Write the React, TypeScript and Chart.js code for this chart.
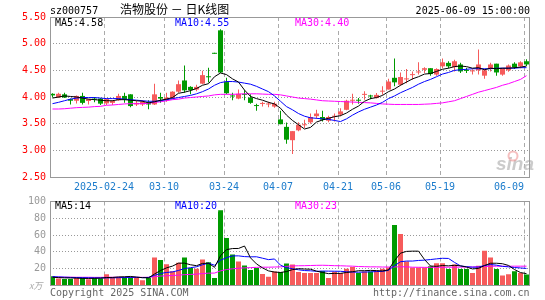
import { useEffect, useRef } from 'react';
import { Chart, registerables } from 'chart.js';

Chart.register(...registerables);

// ---------- data ----------
const stockCode = 'sz000757';
const chartTitle = '浩物股份 － 日K线图';
const timeStamp = '2025-06-09 15:00:00';
const volumeUnit = 'x万';
const copyrightText = 'Copyright 2025 SINA.COM';
const urlText = 'http://finance.sina.com.cn';

const dateIndex = [9, 19, 29, 38, 48, 56, 65, 79];
const dateLabels = ['2025-02-24', '03-10', '03-24', '04-07', '04-21', '05-06', '05-19', '06-09'];
const priceTicks = [2.5, 3, 3.5, 4, 4.5, 5, 5.5];
const volumeTicks = [0, 20, 40, 60, 80, 100];

const opens = [
  4.06, 3.99, 4.05, 3.96, 3.93, 4.02, 3.925, 3.97, 3.97, 3.88,
  3.89, 3.94, 4.02, 4.05, 3.86, 3.86, 3.89, 3.86, 4.0, 3.94,
  3.97, 4.1, 4.31, 4.19, 4.14, 4.25, 4.38, 4.81, 5.25, 4.28,
  4.02, 3.97, 4.05, 3.99, 3.84, 3.87, 3.86, 3.82, 3.58, 3.44,
  3.19, 3.375, 3.47, 3.525, 3.64, 3.625, 3.555, 3.63, 3.67, 3.76,
  3.93, 3.94, 4.04, 4.02, 3.98, 4.1, 4.14, 4.36, 4.23, 4.33,
  4.41, 4.46, 4.51, 4.54, 4.42, 4.575, 4.64, 4.56, 4.61, 4.5,
  4.48, 4.5, 4.4, 4.525, 4.625, 4.42, 4.5, 4.625, 4.575, 4.67,
];
const highs = [
  4.07, 4.08, 4.08, 3.97, 4.03, 4.08, 3.96, 4.0, 3.98, 3.97,
  3.94, 4.06, 4.08, 4.05, 3.925, 3.94, 3.94, 4.25, 4.08, 4.08,
  4.11, 4.31, 4.59, 4.2, 4.23, 4.49, 4.55, 4.81, 5.27, 4.36,
  4.08, 4.14, 4.125, 4.05, 3.875, 3.91, 3.91, 3.91, 3.74, 3.52,
  3.36, 3.525, 3.575, 3.69, 3.76, 3.74, 3.65, 3.69, 3.79, 3.95,
  4.06, 3.98, 4.11, 4.04, 4.075, 4.2, 4.34, 4.72, 4.46, 4.525,
  4.48, 4.65, 4.56, 4.54, 4.54, 4.72, 4.67, 4.7, 4.64, 4.55,
  4.52, 4.89, 4.525, 4.64, 4.625, 4.54, 4.61, 4.65, 4.67, 4.71,
];
const lows = [
  3.99, 3.98, 3.98, 3.86, 3.88, 3.86, 3.86, 3.9, 3.85, 3.85,
  3.85, 3.93, 3.89, 3.81, 3.83, 3.83, 3.77, 3.85, 3.89, 3.91,
  3.96, 4.08, 4.08, 4.05, 4.11, 4.24, 4.27, 4.81, 4.45, 4.05,
  3.94, 3.96, 3.94, 3.875, 3.74, 3.82, 3.81, 3.8, 3.49, 3.125,
  2.93, 3.36, 3.42, 3.5, 3.59, 3.54, 3.525, 3.54, 3.64, 3.75,
  3.86, 3.875, 3.95, 3.96, 3.97, 4.04, 4.14, 4.2, 4.21, 4.26,
  4.325, 4.42, 4.45, 4.4, 4.4, 4.54, 4.54, 4.48, 4.45, 4.45,
  4.42, 4.42, 4.34, 4.48, 4.4, 4.4, 4.475, 4.525, 4.54, 4.58,
];
const closes = [
  4.03, 4.06, 3.99, 3.93, 4.02, 3.89, 3.96, 3.95, 3.875, 3.96,
  3.925, 4.02, 3.96, 3.83, 3.89, 3.91, 3.86, 4.05, 3.97, 3.99,
  4.1, 4.24, 4.125, 4.13, 4.19, 4.41, 4.37, 4.81, 4.46, 4.07,
  4.01, 4.06, 4.04, 3.89, 3.83, 3.88, 3.87, 3.875, 3.49, 3.2,
  3.36, 3.48, 3.48, 3.625, 3.69, 3.575, 3.625, 3.64, 3.73, 3.93,
  3.94, 3.93, 4.05, 4.01, 4.04, 4.11, 4.29, 4.275, 4.375, 4.34,
  4.42, 4.47, 4.54, 4.43, 4.525, 4.65, 4.575, 4.67, 4.48, 4.49,
  4.49, 4.61, 4.5, 4.61, 4.46, 4.54, 4.59, 4.56, 4.65, 4.61,
];
const ma5 = [
  3.98, 4.0, 4.02, 4.01, 4.0, 3.98, 3.96, 3.95, 3.94, 3.93,
  3.93, 3.95, 3.95, 3.94, 3.93, 3.92, 3.89, 3.91, 3.94, 3.96,
  3.99, 4.07, 4.09, 4.12, 4.16, 4.22, 4.25, 4.38, 4.45, 4.42,
  4.34, 4.28, 4.13, 4.01, 3.97, 3.94, 3.9, 3.87, 3.79, 3.66,
  3.56, 3.48, 3.4, 3.43, 3.53, 3.57, 3.6, 3.63, 3.65, 3.7,
  3.77, 3.83, 3.92, 3.97, 3.99, 4.03, 4.1, 4.15, 4.22, 4.28,
  4.34, 4.38, 4.43, 4.44, 4.48, 4.52, 4.54, 4.57, 4.58, 4.57,
  4.54, 4.55, 4.51, 4.54, 4.53, 4.54, 4.54, 4.55, 4.56, 4.58,
];
const ma10 = [
  3.875, 3.9, 3.93, 3.96, 3.98, 3.99, 3.99, 3.99, 3.98, 3.97,
  3.97, 3.97, 3.96, 3.95, 3.94, 3.93, 3.92, 3.92, 3.93, 3.95,
  3.97, 3.99, 4.01, 4.03, 4.06, 4.1, 4.15, 4.22, 4.27, 4.29,
  4.29, 4.28, 4.26, 4.24, 4.2, 4.15, 4.1, 4.02, 3.92, 3.82,
  3.76, 3.69, 3.64, 3.61, 3.6, 3.59, 3.58, 3.56, 3.54, 3.59,
  3.66, 3.72, 3.77, 3.81, 3.85, 3.9, 3.97, 4.02, 4.08, 4.13,
  4.18, 4.24, 4.29, 4.33, 4.38, 4.43, 4.46, 4.5, 4.51, 4.52,
  4.53, 4.53, 4.53, 4.53, 4.54, 4.54, 4.54, 4.54, 4.55, 4.55,
];
const ma30 = [
  3.775, 3.775, 3.78, 3.79, 3.8, 3.805, 3.81, 3.82, 3.825, 3.845,
  3.85, 3.86, 3.87, 3.875, 3.875, 3.875, 3.88, 3.9, 3.91, 3.93,
  3.95, 3.96, 3.98, 3.99, 4.0, 4.01, 4.02, 4.04, 4.05, 4.05,
  4.05, 4.055, 4.06, 4.06, 4.06, 4.055, 4.05, 4.05, 4.04, 4.02,
  4.0, 3.98, 3.97, 3.96, 3.945, 3.93, 3.925, 3.92, 3.915, 3.91,
  3.905, 3.9, 3.895, 3.89, 3.88, 3.87, 3.865, 3.86, 3.86, 3.86,
  3.86, 3.86, 3.865, 3.87, 3.88, 3.89, 3.91, 3.93, 3.97, 4.01,
  4.05, 4.09, 4.12, 4.15, 4.18, 4.22, 4.25, 4.29, 4.33, 4.4,
];
const volumes = [
  10.9, 8.2, 7.8, 7.8, 9.4, 9.4, 7.4, 9.0, 8.2, 13.3,
  10.2, 10.2, 10.2, 10.2, 9.4, 6.3, 9.4, 33.2, 30.5, 25.4,
  17.0, 27.0, 33.2, 20.7, 19.9, 30.9, 27.7, 9.0, 89.5, 56.6,
  37.0, 28.5, 23.8, 18.4, 20.7, 13.7, 10.5, 16.8, 16.0, 26.2,
  25.0, 16.0, 14.8, 14.8, 14.8, 17.2, 9.0, 16.4, 14.8, 19.9,
  21.9, 14.8, 16.8, 16.8, 18.0, 19.9, 21.5, 71.9, 61.3, 28.5,
  21.5, 21.5, 21.5, 23.0, 26.6, 26.6, 19.5, 25.0, 19.5, 19.5,
  14.8, 23.4, 41.4, 33.2, 19.5, 12.0, 13.5, 17.0, 15.0, 13.0,
];
const volMa5 = [
  9.8, 9.4, 9.1, 9.0, 8.8, 8.5, 8.4, 8.6, 8.7, 9.5,
  9.6, 10.2, 10.4, 10.8, 10.0, 9.3, 9.1, 13.7, 17.8, 21.0,
  23.1, 26.6, 26.6, 24.7, 23.6, 26.3, 26.5, 21.6, 35.4, 42.7,
  44.0, 44.1, 47.0, 32.9, 25.7, 21.0, 17.4, 16.0, 15.5, 16.6,
  18.9, 20.0, 19.6, 19.4, 17.1, 15.5, 14.1, 14.4, 14.4, 15.5,
  16.4, 17.6, 17.6, 18.0, 17.7, 17.3, 18.6, 29.6, 38.5, 40.6,
  40.9, 40.9, 30.9, 23.2, 22.8, 23.8, 23.4, 24.1, 23.4, 22.0,
  19.7, 20.4, 23.7, 26.5, 26.5, 25.9, 23.9, 19.0, 15.4, 14.1,
];
const volMa10 = [
  10.5, 10.2, 9.9, 9.6, 9.5, 9.3, 9.2, 9.1, 9.0, 9.1,
  9.1, 9.3, 9.5, 9.75, 9.75, 9.4, 9.6, 12.1, 14.3, 15.5,
  16.2, 17.9, 20.2, 21.2, 22.3, 24.7, 26.6, 24.1, 30.0, 33.2,
  35.2, 35.3, 34.4, 34.1, 34.2, 32.5, 30.8, 31.6, 24.2, 21.2,
  20.0, 18.7, 17.8, 17.5, 16.9, 17.2, 17.1, 17.0, 16.9, 16.3,
  16.0, 15.8, 16.0, 16.2, 16.6, 16.8, 18.1, 23.6, 28.3, 29.1,
  29.1, 29.8, 30.2, 30.9, 31.7, 32.4, 32.2, 27.5, 23.3, 22.4,
  21.8, 21.9, 23.9, 25.0, 24.2, 22.8, 22.2, 21.4, 20.9, 20.3,
];
const volMa30 = [
  10.0, 10.0, 9.9, 9.9, 9.8, 9.8, 9.8, 9.7, 9.7, 9.8,
  9.8, 9.8, 9.8, 9.8, 9.8, 9.7, 9.8, 10.5, 11.2, 11.6,
  11.9, 12.3, 12.9, 13.2, 13.5, 14.2, 14.7, 14.8, 17.4, 19.0,
  19.9, 20.5, 21.0, 21.3, 21.6, 21.8, 21.8, 22.0, 22.2, 22.8,
  23.3, 23.5, 23.6, 23.8, 24.0, 24.1, 23.9, 23.6, 23.5, 23.2,
  23.0, 22.6, 22.4, 22.2, 22.2, 22.0, 22.0, 22.1, 22.3, 22.2,
  21.8, 21.7, 21.6, 21.6, 21.7, 21.7, 21.8, 21.8, 21.9, 22.0,
  22.1, 22.3, 22.6, 22.9, 23.0, 22.9, 22.9, 23.0, 23.0, 23.0,
];

// ---------- styles ----------
const RED = '#f65b5b';
const GREEN = '#009a00';
const FRAME = '#999999';
const GRID = '#aaaaaa';
const MONO = '"DejaVu Sans Mono", monospace';
const CJK = '"Noto Sans CJK SC", sans-serif';

const xPos = (i: number) => i + 5 / 12;
const candleColors = closes.map((c, i) => (c > opens[i] ? RED : GREEN));
const last = closes.length - 1;

const xScale = (showLabels: boolean, height: number): any => ({
  type: 'linear',
  min: 0,
  max: 80,
  offset: false,
  bounds: 'ticks',
  afterBuildTicks: (s: any) => {
    s.ticks = [0, ...dateIndex].map((v) => ({ value: v }));
  },
  afterFit: (s: any) => {
    s.height = height;
  },
  ticks: {
    display: showLabels,
    autoSkip: false,
    maxRotation: 0,
    minRotation: 0,
    align: 'inner',
    padding: 4,
    color: '#1c7ccc',
    font: { family: MONO, size: 10 },
    callback: (v: any) => {
      const k = dateIndex.indexOf(Number(v));
      return k >= 0 ? dateLabels[k] : '';
    },
  },
  grid: {
    offset: false,
    color: (c: any) => (c.tick && c.tick.value === 0 ? 'rgba(0,0,0,0)' : GRID),
    drawTicks: false,
    lineWidth: 1,
  },
  border: { display: false, dash: [4, 3] },
});

const lineDs = (label: string, arr: number[], color: string): any => ({
  type: 'line',
  label,
  data: arr.map((v, i) => ({ x: xPos(i), y: v })),
  borderColor: color,
  borderWidth: 1,
  pointRadius: 0,
  fill: false,
  tension: 0,
});

const drawFrame = (chart: any) => {
  const { ctx, chartArea: a } = chart;
  ctx.save();
  ctx.strokeStyle = FRAME;
  ctx.lineWidth = 1;
  const l = Math.floor(a.left) + 0.5;
  const t = Math.floor(a.top) + 0.5;
  const r = Math.floor(a.right) - 0.5;
  const b = Math.floor(a.bottom) + 0.5;
  ctx.strokeRect(l, t, r - l, b - t);
  ctx.restore();
};

const drawLegend = (ctx: any, items: [string, string, number][], baseline: number, top: number) => {
  ctx.font = `10px ${MONO}`;
  ctx.textAlign = 'left';
  ctx.textBaseline = 'alphabetic';
  items.forEach(([text, color, x]) => {
    const w = ctx.measureText(text).width;
    ctx.fillStyle = '#ffffff';
    ctx.fillRect(x - 1, top, w + 2, baseline - top + 3);
    ctx.fillStyle = color;
    ctx.fillText(text, x, baseline);
  });
};

const pricePlugin = {
  id: 'priceDeco',
  beforeDatasetsDraw(chart: any) {
    const { ctx } = chart;
    ctx.save();
    ctx.font = `italic bold 19px "Liberation Sans", sans-serif`;
    ctx.fillStyle = 'rgba(185,185,185,0.75)';
    ctx.textAlign = 'left';
    ctx.textBaseline = 'alphabetic';
    ctx.fillText('sina', 496, 170);
    ctx.strokeStyle = 'rgba(240,150,150,0.6)';
    ctx.lineWidth = 2;
    ctx.beginPath();
    ctx.arc(513, 156, 4.5, 0, Math.PI * 2);
    ctx.stroke();
    ctx.restore();
  },
  afterDraw(chart: any) {
    const { ctx, chartArea: a } = chart;
    drawFrame(chart);
    ctx.save();
    ctx.textBaseline = 'alphabetic';
    ctx.fillStyle = '#000000';
    ctx.font = `10px ${MONO}`;
    ctx.textAlign = 'left';
    ctx.fillText(stockCode, 50, 14);
    ctx.font = `12px ${CJK}`;
    ctx.fillText(chartTitle, 120, 14);
    ctx.font = `10px ${MONO}`;
    ctx.textAlign = 'right';
    ctx.fillText(timeStamp, 530, 14);
    drawLegend(
      ctx,
      [
        [`MA5:${ma5[last].toFixed(2)}`, '#000000', 55],
        [`MA10:${ma10[last].toFixed(2)}`, '#0000ff', 175],
        [`MA30:${ma30[last].toFixed(2)}`, '#ff00ff', 295],
      ],
      Math.floor(a.top) + 9,
      Math.floor(a.top) + 1,
    );
    ctx.restore();
  },
};

const volumePlugin = {
  id: 'volumeDeco',
  afterDraw(chart: any) {
    const { ctx, chartArea: a } = chart;
    drawFrame(chart);
    ctx.save();
    drawLegend(
      ctx,
      [
        [`MA5:${Math.round(volMa5[last])}`, '#000000', 55],
        [`MA10:${Math.round(volMa10[last])}`, '#0000ff', 175],
        [`MA30:${Math.round(volMa30[last])}`, '#ff00ff', 295],
      ],
      Math.floor(a.top) + 8,
      Math.floor(a.top) + 1,
    );
    ctx.textBaseline = 'alphabetic';
    ctx.textAlign = 'left';
    ctx.fillStyle = '#aaaaaa';
    ctx.font = `italic 9px ${CJK}`;
    ctx.fillText(volumeUnit, 29, 99);
    ctx.fillStyle = '#666666';
    ctx.font = `10px ${MONO}`;
    ctx.fillText(copyrightText, 50, 106);
    ctx.fillText(urlText, 373, 106);
    ctx.restore();
  },
};

export default function App() {
  const priceRef = useRef<HTMLCanvasElement | null>(null);
  const volRef = useRef<HTMLCanvasElement | null>(null);

  useEffect(() => {
    if (!priceRef.current || !volRef.current) return;

    const priceChart = new Chart(priceRef.current, {
      type: 'bar',
      data: {
        datasets: [
          lineDs('MA5', ma5, '#000000'),
          lineDs('MA10', ma10, '#0000ff'),
          lineDs('MA30', ma30, '#ff00ff'),
          {
            type: 'bar',
            label: 'body',
            data: opens.map((o, i) => ({ x: xPos(i), y: [o, closes[i]] })),
            backgroundColor: candleColors,
            barThickness: 5,
            maxBarThickness: 5,
            minBarLength: 1,
            grouped: false,
            inflateAmount: 0,
          } as any,
          {
            type: 'bar',
            label: 'wick',
            data: lows.map((l, i) => ({ x: xPos(i), y: [l, highs[i]] })),
            backgroundColor: candleColors,
            barThickness: 1,
            maxBarThickness: 1,
            minBarLength: 1,
            grouped: false,
            inflateAmount: 0,
          } as any,
        ],
      },
      options: {
        animation: false,
        responsive: false,
        devicePixelRatio: 1,
        events: [],
        layout: { padding: { left: 0, top: 17, right: 15, bottom: 0 } },
        plugins: { legend: { display: false }, tooltip: { enabled: false } },
        scales: {
          x: xScale(true, 13),
          y: {
            type: 'linear',
            min: 2.5,
            max: 5.5,
            afterBuildTicks: (s: any) => {
              s.ticks = priceTicks.map((v) => ({ value: v }));
            },
            afterFit: (s: any) => {
              s.width = 50;
            },
            ticks: {
              color: '#ff0000',
              font: { family: MONO, size: 10 },
              padding: 4,
              callback: (v: any) => Number(v).toFixed(2),
            },
            grid: {
              color: (c: any) =>
                c.tick && (c.tick.value === 2.5 || c.tick.value === 5.5) ? 'rgba(0,0,0,0)' : '#999999',
              drawTicks: false,
            },
            border: { display: false, dash: [1, 2] },
          } as any,
        },
      } as any,
      plugins: [pricePlugin],
    });

    const volChart = new Chart(volRef.current, {
      type: 'bar',
      data: {
        datasets: [
          lineDs('MA5', volMa5, '#000000'),
          lineDs('MA10', volMa10, '#0000ff'),
          lineDs('MA30', volMa30, '#ff00ff'),
          {
            type: 'bar',
            label: 'volume',
            data: volumes.map((v, i) => ({ x: xPos(i), y: v })),
            backgroundColor: candleColors,
            barThickness: 5,
            maxBarThickness: 5,
            grouped: false,
            inflateAmount: 0,
          } as any,
        ],
      },
      options: {
        animation: false,
        responsive: false,
        devicePixelRatio: 1,
        events: [],
        layout: { padding: { left: 0, top: 11.5, right: 15, bottom: 0 } },
        plugins: { legend: { display: false }, tooltip: { enabled: false } },
        scales: {
          x: xScale(false, 14.5),
          y: {
            type: 'linear',
            min: 0,
            max: 100,
            afterBuildTicks: (s: any) => {
              s.ticks = volumeTicks.map((v) => ({ value: v }));
            },
            afterFit: (s: any) => {
              s.width = 50;
            },
            ticks: {
              color: '#999999',
              font: { family: MONO, size: 10 },
              padding: 4,
              callback: (v: any) => (Number(v) === 0 ? '' : String(v)),
            },
            grid: {
              color: (c: any) =>
                c.tick && (c.tick.value === 0 || c.tick.value === 100) ? 'rgba(0,0,0,0)' : '#999999',
              drawTicks: false,
            },
            border: { display: false, dash: [1, 2] },
          } as any,
        },
      } as any,
      plugins: [volumePlugin],
    });

    return () => {
      priceChart.destroy();
      volChart.destroy();
    };
  }, []);

  return (
    <div
      style={{
        position: 'absolute',
        left: 0,
        top: 0,
        width: 545,
        height: 300,
        background: '#ffffff',
        overflow: 'hidden',
      }}
    >
      <canvas
        ref={priceRef}
        width={545}
        height={190}
        style={{ position: 'absolute', left: 0, top: 0, width: 545, height: 190 }}
      />
      <canvas
        ref={volRef}
        width={545}
        height={110}
        style={{ position: 'absolute', left: 0, top: 190, width: 545, height: 110 }}
      />
    </div>
  );
}
